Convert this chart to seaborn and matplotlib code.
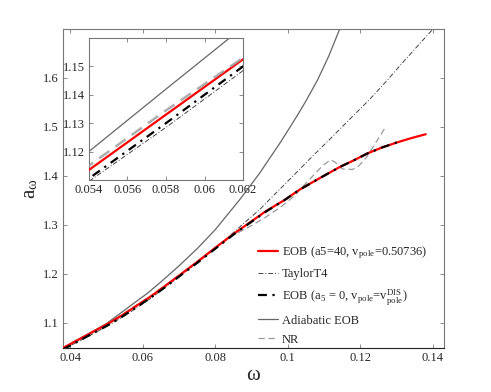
import matplotlib
matplotlib.use("Agg")
import matplotlib.pyplot as plt
import seaborn as sns

# EOB (a5=40, v_pole=0.50736)
w_eob = [0.038, 0.045, 0.050, 0.054, 0.058, 0.062, 0.066, 0.070, 0.075, 0.080, 0.085, 0.0894,
         0.094, 0.0992, 0.1033, 0.108, 0.1143, 0.118, 0.122, 0.126, 0.130, 0.134, 0.138]
a_eob = [1.048, 1.076, 1.096, 1.1135, 1.133, 1.1525, 1.174, 1.196, 1.224, 1.253, 1.281, 1.304,
         1.328, 1.351, 1.372, 1.392, 1.418, 1.431, 1.446, 1.458, 1.468, 1.477, 1.485]

# TaylorT4
w_t4 = [0.038, 0.045, 0.050, 0.054, 0.058, 0.062, 0.066, 0.070, 0.075, 0.080, 0.085, 0.0894,
        0.0921, 0.0958, 0.100, 0.1068, 0.112, 0.1175, 0.1224, 0.127, 0.131, 0.135, 0.1400]
a_t4 = [1.045, 1.072, 1.092, 1.1095, 1.1285, 1.1485, 1.171, 1.194, 1.222, 1.252, 1.284, 1.313,
        1.330, 1.358, 1.389, 1.440, 1.478, 1.519, 1.555, 1.592, 1.626, 1.659, 1.700]

# EOB (a5 = 0, v_pole = v_pole^DIS)
w_eob0 = [0.038, 0.045, 0.050, 0.054, 0.058, 0.062, 0.066, 0.070, 0.075, 0.080, 0.085, 0.0894,
          0.094, 0.0992, 0.1033, 0.108, 0.1143, 0.118, 0.122, 0.126, 0.1315]
a_eob0 = [1.045, 1.073, 1.093, 1.1105, 1.130, 1.150, 1.1715, 1.194, 1.222, 1.251, 1.280, 1.303,
          1.327, 1.351, 1.372, 1.392, 1.418, 1.431, 1.446, 1.458, 1.472]

# Adiabatic EOB
w_adi = [0.038, 0.045, 0.050, 0.054, 0.058, 0.0613, 0.0646, 0.070, 0.075, 0.080, 0.0866,
         0.0921, 0.0981, 0.1025, 0.105, 0.1082, 0.1113, 0.1143]
a_adi = [1.048, 1.077, 1.098, 1.120, 1.142, 1.160, 1.1805, 1.216, 1.251, 1.290, 1.350,
         1.404, 1.470, 1.522, 1.553, 1.596, 1.645, 1.700]

# NR
w_nr = [0.038, 0.045, 0.050, 0.054, 0.058, 0.062, 0.066, 0.070, 0.075, 0.080, 0.085, 0.0894,
        0.094, 0.098, 0.1015, 0.105, 0.1095, 0.1118, 0.113, 0.115, 0.1178, 0.1195, 0.1215,
        0.124, 0.1267]
a_nr = [1.049, 1.077, 1.097, 1.115, 1.1345, 1.153, 1.175, 1.197, 1.225, 1.253, 1.279, 1.296,
        1.316, 1.336, 1.357, 1.385, 1.420, 1.433, 1.428, 1.414, 1.413, 1.420, 1.436,
        1.465, 1.497]

xticks = [0.04, 0.06, 0.08, 0.1, 0.12, 0.14]
xticklabels = ["0.04", "0.06", "0.08", "0.1", "0.12", "0.14"]
yticks = [1.1, 1.2, 1.3, 1.4, 1.5, 1.6]
yticklabels = ["1.1", "1.2", "1.3", "1.4", "1.5", "1.6"]
in_xticks = [0.054, 0.056, 0.058, 0.06, 0.062]
in_xticklabels = ["0.054", "0.056", "0.058", "0.06", "0.062"]
in_yticks = [1.12, 1.13, 1.14, 1.15]
in_yticklabels = ["1.12", "1.13", "1.14", "1.15"]

sns.set_style("ticks")
plt.rcParams["font.family"] = ["Liberation Serif", "DejaVu Serif"]
plt.rcParams["mathtext.fontset"] = "stix"

fig = plt.figure(figsize=(4.91, 3.92), dpi=100)
ax = fig.add_axes([0.128, 0.112, 0.776, 0.814])


def draw_curves(ax, inset=False):
    lw_main = 1.6
    sns.lineplot(x=w_eob, y=a_eob, ax=ax, color="red", lw=lw_main, sort=False,
                 label="EOB (a5=40, v$_{\\mathregular{pole}}$=0.50736)", zorder=3)
    sns.lineplot(x=w_t4, y=a_t4, ax=ax, color="#444444", lw=0.7, sort=False,
                 linestyle=(0, (5, 2, 1, 2)), label="TaylorT4", zorder=2)
    sns.lineplot(x=w_eob0, y=a_eob0, ax=ax, color="black", lw=1.6, sort=False,
                 linestyle=(0, (4, 2.5, 1, 2.5)),
                 label="EOB (a$_{\\mathregular{5}}$ = 0, v$_{\\mathregular{pole}}$"
                       "=v$_{\\mathregular{pole}}^{\\mathregular{DIS}}$)", zorder=4)
    sns.lineplot(x=w_adi, y=a_adi, ax=ax, color="#666666", lw=0.9, sort=False,
                 label="Adiabatic EOB", zorder=2)
    sns.lineplot(x=w_nr, y=a_nr, ax=ax, color="#999999", lw=1.8 if inset else 0.9,
                 sort=False, linestyle=(0, (5, 3)), label="NR", zorder=5 if inset else 2,
                 alpha=0.8 if inset else 1.0)


def style_axes(ax):
    for side in ["top", "right", "left", "bottom"]:
        ax.spines[side].set_visible(True)
        ax.spines[side].set_color("#777777")
        ax.spines[side].set_linewidth(0.8)
    ax.tick_params(direction="in", top=True, right=True, length=3, width=0.6,
                   color="#777777", labelsize=9, pad=3)


draw_curves(ax)
ax.set_xlim(0.038, 0.143)
ax.set_ylim(1.048, 1.70)
ax.set_xticks(xticks)
ax.set_xticklabels(xticklabels)
ax.set_yticks(yticks)
ax.set_yticklabels(yticklabels)
style_axes(ax)
ax.spines["bottom"].set_color("#222222")
ax.set_xlabel("ω", fontsize=15, labelpad=1)
ax.set_ylabel("a$_{\\mathregular{ω}}$", fontsize=15, labelpad=2)

leg = ax.legend(loc="upper left", bbox_to_anchor=(0.50, 0.34), frameon=False, fontsize=9,
                handlelength=1.6, handletextpad=0.3, labelspacing=0.55, borderaxespad=0)

axin = fig.add_axes([0.181, 0.541, 0.314, 0.362])
draw_curves(axin, inset=True)
axin.get_legend().remove()
axin.set_xlim(0.054, 0.062)
axin.set_ylim(1.110, 1.160)
axin.set_xticks(in_xticks)
axin.set_xticklabels(in_xticklabels)
axin.set_yticks(in_yticks)
axin.set_yticklabels(in_yticklabels)
style_axes(axin)
axin.set_xlabel("")
axin.set_ylabel("")

fig.savefig("out.png", dpi=100)
